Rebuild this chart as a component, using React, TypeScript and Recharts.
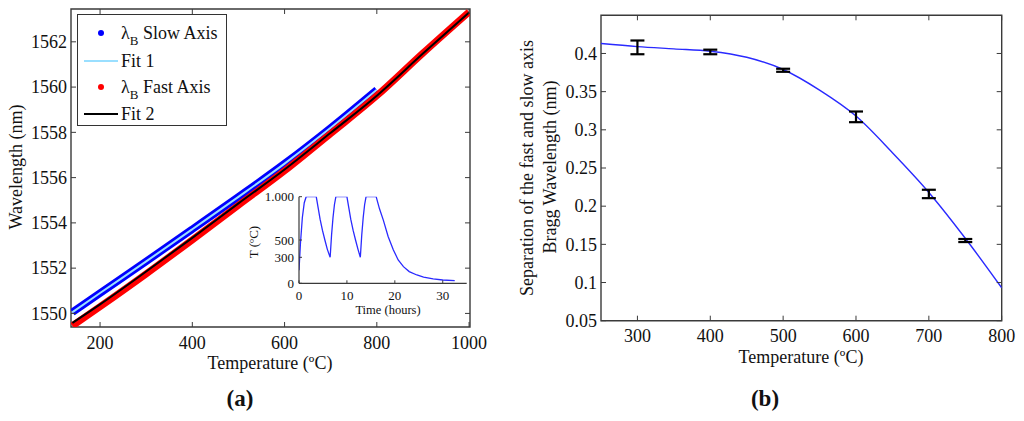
import React from "react";
import { ComposedChart, LineChart, Line, Scatter, ErrorBar, XAxis, YAxis, ReferenceArea } from "recharts";

const FONT = "Liberation Serif, Times New Roman, serif";
const AXIS = "#3a3a3a";
const INK = "#111";

// (a) Bragg wavelength vs temperature
const slowTemps = [140, 200, 300, 400, 500, 600, 700, 800];
const slowAxis = [1550.05, 1550.9, 1552.3, 1553.72, 1555.15, 1556.62, 1558.2, 1559.88];
const fit1 = [1550.05, 1550.9, 1552.3, 1553.72, 1555.15, 1556.62, 1558.2, 1559.88];
const fastTemps = [140, 200, 300, 400, 500, 600, 700, 800, 900, 1000];
const fastAxis = [1549.45, 1550.3, 1551.75, 1553.25, 1554.78, 1556.3, 1557.95, 1559.62, 1561.5, 1563.32];
const fit2 = [1549.58, 1550.4, 1551.85, 1553.34, 1554.86, 1556.36, 1557.98, 1559.62, 1561.48, 1563.3];
const tempTicksA = [200, 400, 600, 800, 1000];
const wavelengthTicks = [1550, 1552, 1554, 1556, 1558, 1560, 1562];

// inset: furnace temperature program
const hours = [0, 0.3, 0.7, 1.1, 1.5, 3.6, 4.0, 4.4, 4.9, 5.4, 5.9, 6.5, 6.8, 7.1, 7.4, 7.7,
  10.0, 10.4, 10.8, 11.3, 11.8, 12.3, 12.8, 13.1, 13.4, 13.7, 14.0,
  16.1, 16.8, 17.6, 18.6, 19.7, 20.7, 21.8, 23.0, 24.6, 26.0, 28.0, 30.0, 32.5];
const furnace = [150, 460, 760, 930, 1000, 1000, 870, 740, 610, 500, 395, 300, 560, 760, 910, 1000,
  1000, 870, 740, 610, 500, 395, 300, 560, 760, 910, 1000,
  1000, 860, 730, 540, 385, 270, 192, 135, 96, 70, 50, 38, 30];
const hourTicks = [0, 10, 20, 30];
const furnaceTicks = [0, 300, 500, 1000];

// (b) fast/slow axis separation
const sepTemps = [300, 400, 500, 600, 700, 750];
const separation = [0.408, 0.402, 0.378, 0.317, 0.216, 0.155];
const sepError = [0.009, 0.003, 0.002, 0.007, 0.0055, 0.002];
const curveTemps = [250, 300, 350, 400, 450, 500, 550, 600, 650, 700, 750, 800];
const curveSep = [0.413, 0.409, 0.406, 0.403, 0.395, 0.379, 0.352, 0.318, 0.27, 0.218, 0.158, 0.093];
const tempTicksB = [300, 400, 500, 600, 700, 800];
const sepTicks = [0.05, 0.1, 0.15, 0.2, 0.25, 0.3, 0.35, 0.4];

const pairs = (xs: number[], ys: number[]) => xs.map((t, i) => ({ t, v: ys[i] }));
const slowData = pairs(slowTemps, slowAxis);
const fit1Data = pairs(slowTemps, fit1);
const fastData = pairs(fastTemps, fastAxis);
const fit2Data = pairs(fastTemps, fit2);
const insetData = pairs(hours, furnace);
const sepData = sepTemps.map((t, i) => ({ t, v: separation[i], err: sepError[i] }));
const curveData = pairs(curveTemps, curveSep);

type Box = { top: number; left: number; bottom: number; right: number };

function xTick(b: Box, labelY: number, size: number, len: number, box: boolean, fmt = (v: number) => String(v)) {
  return (p: any) => (
    <g>
      <line x1={p.x} x2={p.x} y1={b.bottom} y2={b.bottom - len} stroke={AXIS} />
      {box && <line x1={p.x} x2={p.x} y1={b.top} y2={b.top + len} stroke={AXIS} />}
      <text x={p.x} y={labelY} dy="0.35em" textAnchor="middle" fontFamily={FONT} fontSize={size} style={{ fontFamily: FONT }} fill={INK}>
        {fmt(p.payload.value)}
      </text>
    </g>
  );
}

function yTick(b: Box, labelX: number, size: number, len: number, box: boolean, fmt = (v: number) => String(v)) {
  return (p: any) => (
    <g>
      <line x1={b.left} x2={b.left + len} y1={p.y} y2={p.y} stroke={AXIS} />
      {box && <line x1={b.right} x2={b.right - len} y1={p.y} y2={p.y} stroke={AXIS} />}
      <text x={labelX} y={p.y} dy="0.35em" textAnchor="end" fontFamily={FONT} fontSize={size} style={{ fontFamily: FONT }} fill={INK}>
        {fmt(p.payload.value)}
      </text>
    </g>
  );
}

function Label({ x, y, text, size = 18, rotate = false, bold = false }: any) {
  return (
    <div
      style={{
        position: "absolute",
        left: x,
        top: y,
        transform: `translate(-50%, -50%)${rotate ? " rotate(-90deg)" : ""}`,
        whiteSpace: "nowrap",
        fontSize: size,
        lineHeight: 1,
        fontWeight: bold ? 700 : 400,
        color: INK,
      }}
    >
      {text}
    </div>
  );
}

const boxA: Box = { top: 9, left: 71, bottom: 327, right: 470 };
const boxInset: Box = { top: 11.7, left: 59, bottom: 98.3, right: 226.7 };
const boxB: Box = { top: 15.3, left: 81, bottom: 320.7, right: 481.7 };

function LegendRow({ y, kind, color, children }: any) {
  return (
    <>
      {kind === "dot" ? (
        <div style={{ position: "absolute", left: 20, top: y - 3, width: 6, height: 6, borderRadius: 3, background: color }} />
      ) : (
        <div style={{ position: "absolute", left: 6, top: y - 1, width: 34, height: 2, background: color }} />
      )}
      <div style={{ position: "absolute", left: 43, top: y - 9, fontSize: 18, lineHeight: "18px", whiteSpace: "nowrap" }}>
        {children}
      </div>
    </>
  );
}

const lambdaB = (
  <>
    λ<sub style={{ fontSize: 13, verticalAlign: -6, lineHeight: 0 }}>B</sub>
  </>
);

export default function App() {
  return (
    <div style={{ position: "absolute", left: 0, top: 0, width: 1024, height: 421, background: "#fff", fontFamily: FONT, overflow: "hidden" }}>
      {/* panel (a) */}
      <div style={{ position: "absolute", left: 0, top: 0 }}>
        <ComposedChart width={500} height={421} margin={{ top: 9, left: 70, right: 30, bottom: 93 }} style={{ fontFamily: FONT }}>
          <XAxis
            dataKey="t"
            type="number"
            domain={[137, 1002]}
            allowDataOverflow
            ticks={tempTicksA}
            interval={0}
            height={1}
            tickSize={0}
            axisLine={false}
            tick={xTick(boxA, 343, 18, 5, true)}
          />
          <YAxis
            type="number"
            domain={[1549.4, 1563.45]}
            allowDataOverflow
            ticks={wavelengthTicks}
            interval={0}
            width={1}
            tickSize={0}
            axisLine={false}
            tick={yTick(boxA, 67, 18, 5, true)}
          />
          <ReferenceArea x1={137} x2={1002} y1={1549.4} y2={1563.45} fill="none" stroke={AXIS} strokeWidth={1.4} ifOverflow="visible" />
          <Line data={slowData} dataKey="v" stroke="#0000ff" strokeWidth={7.5} dot={false} isAnimationActive={false} type="monotone" />
          <Line data={fit1Data} dataKey="v" stroke="#9adfff" strokeWidth={2} dot={false} isAnimationActive={false} type="monotone" />
          <Line data={fastData} dataKey="v" stroke="#ff0000" strokeWidth={7} dot={false} isAnimationActive={false} type="monotone" />
          <Line data={fit2Data} dataKey="v" stroke="#000" strokeWidth={2} dot={false} isAnimationActive={false} type="monotone" />
        </ComposedChart>
      </div>

      {/* inset */}
      <div style={{ position: "absolute", left: 240, top: 185 }}>
        <LineChart width={235} height={135} data={insetData} margin={{ top: 11.7, left: 58, right: 8.3, bottom: 35.7 }} style={{ fontFamily: FONT }}>
          <XAxis
            dataKey="t"
            type="number"
            domain={[0, 35]}
            allowDataOverflow
            ticks={hourTicks}
            interval={0}
            height={1}
            tickSize={0}
            axisLine={{ stroke: AXIS, strokeWidth: 1.2 }}
            tick={xTick(boxInset, 110.5, 13, 3, false)}
          />
          <YAxis
            type="number"
            domain={[0, 1000]}
            allowDataOverflow
            ticks={furnaceTicks}
            interval={0}
            width={1}
            tickSize={0}
            axisLine={{ stroke: AXIS, strokeWidth: 1.2 }}
            tick={yTick(boxInset, 54, 13, 3, false, (v) => (v === 1000 ? "1.000" : String(v)))}
          />
          <Line dataKey="v" stroke="#2a2aff" strokeWidth={1.3} dot={false} isAnimationActive={false} type="linear" />
        </LineChart>
      </div>

      {/* legend (a) */}
      <div style={{ position: "absolute", left: 77, top: 14, width: 150, height: 112, boxSizing: "border-box", border: "1px solid #333", background: "#fff", color: INK }}>
        <LegendRow y={18} kind="dot" color="#0000ff">{lambdaB} Slow Axis</LegendRow>
        <LegendRow y={45.5} kind="line" color="#9adfff">Fit 1</LegendRow>
        <LegendRow y={72} kind="dot" color="#ff0000">{lambdaB} Fast Axis</LegendRow>
        <LegendRow y={99} kind="line" color="#000">Fit 2</LegendRow>
      </div>

      <Label x={16} y={167} text="Wavelength (nm)" rotate />
      <Label x={270} y={363} text="Temperature (ºC)" />
      <Label x={240} y={398} text="(a)" size={23} bold />
      <Label x={253} y={242} text="T (ºC)" size={13} rotate />
      <Label x={388} y={309.5} text="Time (hours)" size={12.5} />

      {/* panel (b) */}
      <div style={{ position: "absolute", left: 520, top: 0 }}>
        <ComposedChart width={504} height={421} margin={{ top: 15.3, left: 80, right: 22.3, bottom: 99.3 }} style={{ fontFamily: FONT }}>
          <XAxis
            dataKey="t"
            type="number"
            domain={[250, 800]}
            allowDataOverflow
            ticks={tempTicksB}
            interval={0}
            height={1}
            tickSize={0}
            axisLine={false}
            tick={xTick(boxB, 336, 18, 5, true)}
          />
          <YAxis
            type="number"
            domain={[0.05, 0.45]}
            allowDataOverflow
            ticks={sepTicks}
            interval={0}
            width={1}
            tickSize={0}
            axisLine={false}
            tick={yTick(boxB, 77, 18, 5, true)}
          />
          <ReferenceArea x1={250} x2={800} y1={0.05} y2={0.45} fill="none" stroke={AXIS} strokeWidth={1.4} ifOverflow="visible" />
          <Line data={curveData} dataKey="v" stroke="#2a2aff" strokeWidth={1.4} dot={false} isAnimationActive={false} type="monotone" />
          <Scatter data={sepData} dataKey="v" isAnimationActive={false} shape={() => <g />}>
            <ErrorBar dataKey="err" direction="y" width={7} stroke="#000" strokeWidth={2.2} isAnimationActive={false} />
          </Scatter>
        </ComposedChart>
      </div>

      <Label x={527} y={168} text="Separation of the fast and slow axis" rotate />
      <Label x={550} y={167} text="Bragg Wavelength (nm)" rotate />
      <Label x={801} y={357} text="Temperature (ºC)" />
      <Label x={765} y={398} text="(b)" size={23} bold />
    </div>
  );
}
